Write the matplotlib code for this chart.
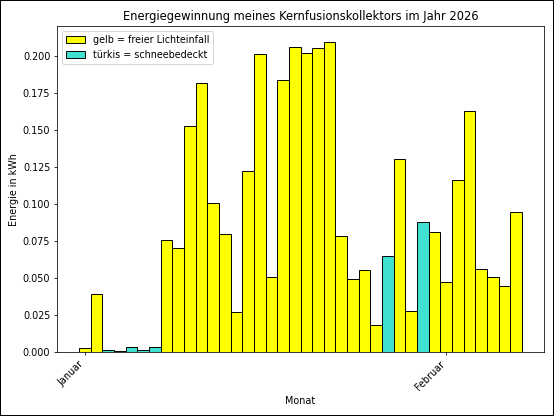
import numpy as np
import pandas as pd
import matplotlib
matplotlib.use('Agg')
import matplotlib.pyplot as plt
from matplotlib.patches import Patch

# DATA: daily energy (kWh) from 1 Jan 2026 to 7 Feb 2026
days = pd.date_range('2026-01-01', '2026-02-07', freq='D')
energie = [0.0025, 0.039, 0.0013, 0.0003, 0.003, 0.001, 0.0036, 0.0757,
           0.0705, 0.1527, 0.1815, 0.1009, 0.0795, 0.0268, 0.1221, 0.2016,
           0.0509, 0.1838, 0.2063, 0.2023, 0.2056, 0.2097, 0.0786, 0.0491,
           0.0552, 0.0180, 0.0646, 0.1304, 0.0275, 0.0876, 0.0813, 0.0475,
           0.1164, 0.1630, 0.0559, 0.0505, 0.0448, 0.0946]
# True = schneebedeckt (snow covered)
schnee = [False, False, True, False, True, True, True, False,
          False, False, False, False, False, False, False, False,
          False, False, False, False, False, False, False, False,
          False, False, True, False, False, True, False, False,
          False, False, False, False, False, False]
monat_ticks = ['2026-01-01', '2026-02-01']
monat_labels = ['Januar', 'Februar']

farben = ['turquoise' if s else 'yellow' for s in schnee]

DPI = 69.25
fig = plt.figure(figsize=(554 / DPI, 416 / DPI), dpi=DPI,
                 edgecolor='black', linewidth=2)
ax = fig.add_subplot(111)

ax.bar(days, energie, width=1.0, color=farben, edgecolor='black',
       linewidth=1)

ax.set_xticks(pd.to_datetime(monat_ticks))
ax.set_xticklabels(monat_labels, rotation=45, ha='right')
ax.set_title('Energiegewinnung meines Kernfusionskollektors im Jahr 2026')
ax.set_xlabel('Monat')
ax.set_ylabel('Energie in kWh')

legende = [Patch(facecolor='yellow', edgecolor='black', label='gelb = freier Lichteinfall'),
           Patch(facecolor='turquoise', edgecolor='black', label='türkis = schneebedeckt')]
ax.legend(handles=legende, loc='upper left')

fig.subplots_adjust(left=0.103, right=0.982, top=0.937, bottom=0.154)
fig.savefig('out.png', dpi=DPI, edgecolor=fig.get_edgecolor())
